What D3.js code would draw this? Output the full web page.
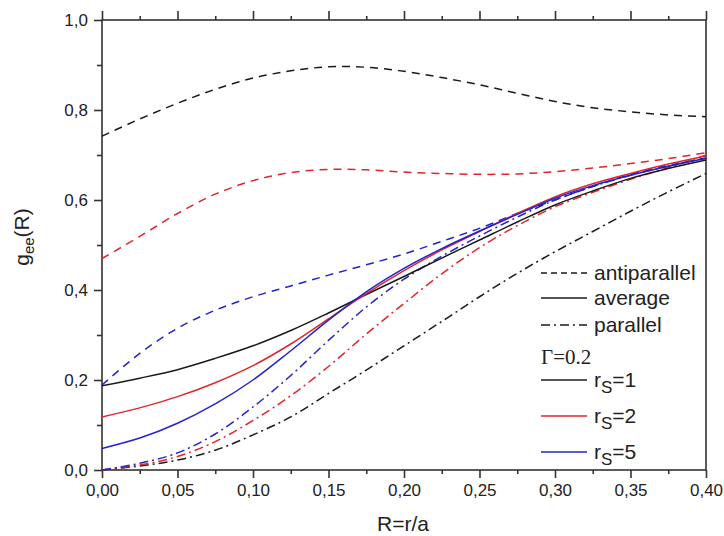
<!DOCTYPE html>
<html>
<head>
<meta charset="utf-8">
<script src="https://cdn.jsdelivr.net/npm/d3@7"></script>
<style>
    body { margin: 0; background: #fff; }
    svg { display: block; }
    .tick text { font-family: "Liberation Sans", Arial, sans-serif; font-size: 17px; fill: #222; }
    .label { font-family: "Liberation Sans", Arial, sans-serif; font-size: 21px; fill: #222; }
</style>
</head>
<body>
<svg id="gee-graph"></svg>
<script>
//Data - R values shared by every curve
const rValues = [0, 0.025, 0.05, 0.075, 0.10, 0.125, 0.15, 0.175, 0.20, 0.225, 0.25, 0.275, 0.30, 0.325, 0.35, 0.375, 0.40];

//antiparallel (dashed)
const antiRs1 = [0.742, 0.780, 0.815, 0.846, 0.871, 0.887, 0.896, 0.895, 0.886, 0.872, 0.856, 0.837, 0.819, 0.805, 0.796, 0.789, 0.785];
const antiRs2 = [0.470, 0.519, 0.570, 0.613, 0.643, 0.661, 0.668, 0.667, 0.662, 0.659, 0.657, 0.658, 0.663, 0.671, 0.681, 0.692, 0.705];
const antiRs5 = [0.189, 0.259, 0.315, 0.355, 0.385, 0.409, 0.433, 0.456, 0.480, 0.508, 0.537, 0.570, 0.600, 0.630, 0.657, 0.677, 0.693];

//average (solid)
const avgRs1 = [0.187, 0.204, 0.223, 0.248, 0.276, 0.310, 0.349, 0.390, 0.430, 0.471, 0.511, 0.551, 0.589, 0.620, 0.648, 0.670, 0.689];
const avgRs2 = [0.118, 0.138, 0.163, 0.194, 0.232, 0.280, 0.336, 0.392, 0.443, 0.489, 0.530, 0.570, 0.607, 0.636, 0.659, 0.680, 0.698];
const avgRs5 = [0.048, 0.071, 0.104, 0.147, 0.200, 0.265, 0.333, 0.396, 0.448, 0.492, 0.531, 0.568, 0.604, 0.632, 0.655, 0.675, 0.693];

//parallel (dash-dot)
const parRs1 = [0, 0.009, 0.022, 0.044, 0.078, 0.118, 0.170, 0.222, 0.276, 0.330, 0.385, 0.437, 0.485, 0.530, 0.575, 0.618, 0.659];
const parRs2 = [0, 0.011, 0.030, 0.063, 0.110, 0.165, 0.230, 0.302, 0.370, 0.436, 0.494, 0.543, 0.585, 0.617, 0.646, 0.672, 0.700];
const parRs5 = [0, 0.015, 0.038, 0.080, 0.140, 0.210, 0.288, 0.362, 0.424, 0.475, 0.520, 0.562, 0.600, 0.630, 0.655, 0.675, 0.693];

//legend labels
const spinLabels = ['antiparallel', 'average', 'parallel'];
const rsLabels = ['1', '2', '5'];
const gammaLabel = 'Γ=0.2';

//tick values
const xTicks = [0, 0.05, 0.10, 0.15, 0.20, 0.25, 0.30, 0.35, 0.40];
const yTicks = [0, 0.2, 0.4, 0.6, 0.8, 1.0];

//Setting up canvas
let width = 724;
let height = 536;
let margin = {left: 102, top: 20, right: 18, bottom: 66};

const colors = {'1': '#1a1a1a', '2': '#e0262b', '5': '#2323cc'};
const dashes = {antiparallel: '8,6', average: null, parallel: '9,4,2,4'};

let series = [
    {spin: 'antiparallel', rs: '1', values: antiRs1},
    {spin: 'antiparallel', rs: '2', values: antiRs2},
    {spin: 'antiparallel', rs: '5', values: antiRs5},
    {spin: 'parallel', rs: '1', values: parRs1},
    {spin: 'parallel', rs: '2', values: parRs2},
    {spin: 'parallel', rs: '5', values: parRs5},
    {spin: 'average', rs: '1', values: avgRs1},
    {spin: 'average', rs: '2', values: avgRs2},
    {spin: 'average', rs: '5', values: avgRs5}
];

let svg = d3.select('#gee-graph')
    .attr('width', width)
    .attr('height', height);

//comma as decimal separator
const locale = d3.formatLocale({decimal: ',', thousands: '.', grouping: [3], currency: ['', '']});

let xScale = d3.scaleLinear()
    .domain([0, 0.40])
    .range([margin.left, width - margin.right]);
let yScale = d3.scaleLinear()
    .domain([0, 1.0])
    .range([height - margin.bottom, margin.top]);

let x0 = xScale(0), x1 = xScale(0.40);
let y0 = yScale(0), y1 = yScale(1.0);

//minor ticks
let xMinor = d3.range(0.025, 0.40, 0.05);
let yMinor = d3.range(0.1, 1.0, 0.2);

//bottom axis
svg.append('g')
    .attr('transform', 'translate(0,' + y0 + ')')
    .call(d3.axisBottom(xScale).tickValues(xTicks).tickSize(8).tickPadding(6).tickFormat(locale.format('.2f')));
svg.append('g')
    .attr('transform', 'translate(0,' + y0 + ')')
    .call(d3.axisBottom(xScale).tickValues(xMinor).tickSize(4).tickFormat(''));

//top axis (ticks only)
svg.append('g')
    .attr('transform', 'translate(0,' + y1 + ')')
    .call(d3.axisTop(xScale).tickValues(xTicks).tickSize(9).tickFormat(''));
svg.append('g')
    .attr('transform', 'translate(0,' + y1 + ')')
    .call(d3.axisTop(xScale).tickValues(xMinor).tickSize(4).tickFormat(''));

//left axis
svg.append('g')
    .attr('transform', 'translate(' + x0 + ',0)')
    .call(d3.axisLeft(yScale).tickValues(yTicks).tickSize(8).tickPadding(6).tickFormat(locale.format('.1f')));
svg.append('g')
    .attr('transform', 'translate(' + x0 + ',0)')
    .call(d3.axisLeft(yScale).tickValues(yMinor).tickSize(5).tickFormat(''));

svg.selectAll('.domain').remove();
svg.selectAll('.tick line').attr('stroke', '#333').attr('stroke-width', 1.6);

//frame
svg.append('rect')
    .attr('x', x0).attr('y', y1)
    .attr('width', x1 - x0).attr('height', y0 - y1)
    .attr('fill', 'none')
    .attr('stroke', '#333')
    .attr('stroke-width', 1.6);

//curves
let line = d3.line()
    .x((d, i) => xScale(rValues[i]))
    .y(d => yScale(d))
    .curve(d3.curveCatmullRom.alpha(0.5));

let plot = svg.append('g');
plot.selectAll('path')
    .data(series)
    .enter()
    .append('path')
    .attr('d', d => line(d.values))
    .attr('fill', 'none')
    .attr('stroke', d => colors[d.rs])
    .attr('stroke-width', 1.5)
    .attr('stroke-dasharray', d => dashes[d.spin]);

//axis titles
svg.append('text')
    .attr('class', 'label')
    .attr('x', 403)
    .attr('y', 531)
    .attr('text-anchor', 'middle')
    .text('R=r/a');

let yTitle = svg.append('text')
    .attr('class', 'label')
    .attr('transform', 'translate(29,237) rotate(-90)')
    .attr('text-anchor', 'middle');
yTitle.append('tspan').text('g');
yTitle.append('tspan').attr('font-size', '15px').attr('dy', 5).text('ee');
yTitle.append('tspan').attr('dy', -5).text('(R)');

//legend
let legend = svg.append('g');
let lx0 = 541, lx1 = 587, tx = 594;
let spinY = [273, 298, 325];
spinLabels.forEach((s, i) => {
    legend.append('line')
        .attr('x1', lx0).attr('x2', lx1)
        .attr('y1', spinY[i]).attr('y2', spinY[i])
        .attr('stroke', '#1a1a1a')
        .attr('stroke-width', 1.5)
        .attr('stroke-dasharray', s === 'antiparallel' ? '6,4' : dashes[s]);
    legend.append('text')
        .attr('class', 'label')
        .attr('x', tx).attr('y', spinY[i] + 7)
        .text(s);
});

legend.append('text')
    .attr('x', lx0).attr('y', 364)
    .style('font-family', '"Liberation Serif", "Times New Roman", serif')
    .style('font-size', '21px')
    .style('fill', '#222')
    .text(gammaLabel);

let rsY = [380, 416, 452];
rsLabels.forEach((r, i) => {
    legend.append('line')
        .attr('x1', lx0).attr('x2', lx1)
        .attr('y1', rsY[i]).attr('y2', rsY[i])
        .attr('stroke', colors[r])
        .attr('stroke-width', 1.5);
    let t = legend.append('text')
        .attr('class', 'label')
        .attr('x', tx).attr('y', rsY[i] + 7);
    t.append('tspan').text('r');
    t.append('tspan').attr('font-size', '17px').attr('dy', 6).text('S');
    t.append('tspan').attr('dy', -6).text('=' + r);
});
</script>
</body>
</html>
